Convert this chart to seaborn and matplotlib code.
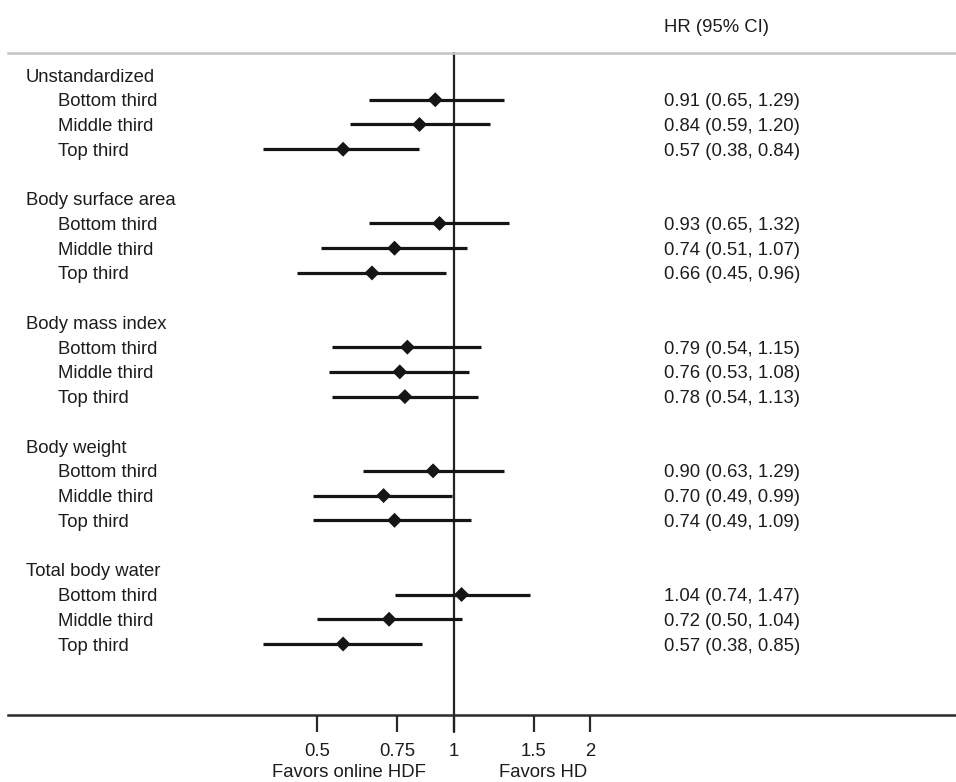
import matplotlib
matplotlib.use("Agg")
import matplotlib.pyplot as plt
import matplotlib.transforms as mtransforms
import seaborn as sns
import pandas as pd

# --- data ---
groups = ["Unstandardized", "Body surface area", "Body mass index", "Body weight", "Total body water"]
thirds = ["Bottom third", "Middle third", "Top third"]

hr = [0.91, 0.84, 0.57, 0.93, 0.74, 0.66, 0.79, 0.76, 0.78, 0.90, 0.70, 0.74, 1.04, 0.72, 0.57]
ci_low = [0.65, 0.59, 0.38, 0.65, 0.51, 0.45, 0.54, 0.53, 0.54, 0.63, 0.49, 0.49, 0.74, 0.50, 0.38]
ci_high = [1.29, 1.20, 0.84, 1.32, 1.07, 0.96, 1.15, 1.08, 1.13, 1.29, 0.99, 1.09, 1.47, 1.04, 0.85]

tick_values = [0.5, 0.75, 1, 1.5, 2]
tick_labels = ["0.5", "0.75", "1", "1.5", "2"]

# rows: group header, three thirds, blank line
rows = []
for g, name in enumerate(groups):
    for j, t in enumerate(thirds):
        rows.append({"group": name, "third": t, "row": g * 5 + 1 + j})
df = pd.DataFrame(rows)
df["hr"] = hr
df["lo"] = ci_low
df["hi"] = ci_high
df["label"] = [f"{h:.2f} ({l:.2f}, {u:.2f})" for h, l, u in zip(hr, ci_low, ci_high)]

sns.set_theme(style="white")
plt.rcParams["font.family"] = ["Liberation Sans", "DejaVu Sans"]
txt_color = "#1c1c1c"
fs = 13.3

fig = plt.figure(figsize=(9.56, 7.82), dpi=100)
ax = fig.add_axes([8 / 956, 67 / 782, 948 / 956, 662 / 782])

ax.set_xscale("log")
ax.set_xlim(0.104, 12.8)
ax.set_ylim(25.87, -0.89)

# confidence intervals + point estimates
ax.hlines(df["row"], df["lo"], df["hi"], color="#151515", linewidth=2.3, zorder=2)
sns.scatterplot(data=df, x="hr", y="row", marker="D", s=58, color="#151515",
                edgecolor="none", zorder=3, ax=ax, legend=False)

# reference line at HR = 1
ax.axvline(1, ymin=-0.026, ymax=1, color="#222222", linewidth=1.6, clip_on=False, zorder=1)

# axis styling
for side in ["left", "right"]:
    ax.spines[side].set_visible(False)
ax.spines["top"].set_color("#c4c4c4")
ax.spines["top"].set_linewidth(1.8)
ax.spines["bottom"].set_color("#2a2a2a")
ax.spines["bottom"].set_linewidth(1.8)
ax.set_yticks([])
ax.set_xticks(tick_values)
ax.set_xticklabels(tick_labels)
ax.minorticks_off()
ax.tick_params(axis="x", which="major", direction="out", length=12, width=1.6,
               color="#2a2a2a", pad=8, labelsize=fs, labelcolor=txt_color, bottom=True)
ax.set_xlabel("")
ax.set_ylabel("")

# text columns
trans = mtransforms.blended_transform_factory(fig.transFigure, ax.transData)
for g, name in enumerate(groups):
    ax.text(26 / 956, g * 5, name, transform=trans, ha="left", va="center_baseline",
            fontsize=fs, color=txt_color)
for _, r in df.iterrows():
    ax.text(58 / 956, r["row"], r["third"], transform=trans, ha="left", va="center_baseline",
            fontsize=fs, color=txt_color)
    ax.text(664 / 956, r["row"], r["label"], transform=trans, ha="left", va="center_baseline",
            fontsize=fs, color=txt_color)

fig.text(664 / 956, 1 - 25 / 782, "HR (95% CI)", ha="left", va="center_baseline",
         fontsize=fs, color=txt_color)

# direction labels under the axis
fig.text((8 + 0.3597 * 948) / 956, 1 - 777 / 782, "Favors online HDF", ha="center",
         va="baseline", fontsize=fs, color=txt_color)
fig.text((8 + 0.5643 * 948) / 956, 1 - 777 / 782, "Favors HD", ha="center",
         va="baseline", fontsize=fs, color=txt_color)

fig.savefig("out.png", dpi=100)
